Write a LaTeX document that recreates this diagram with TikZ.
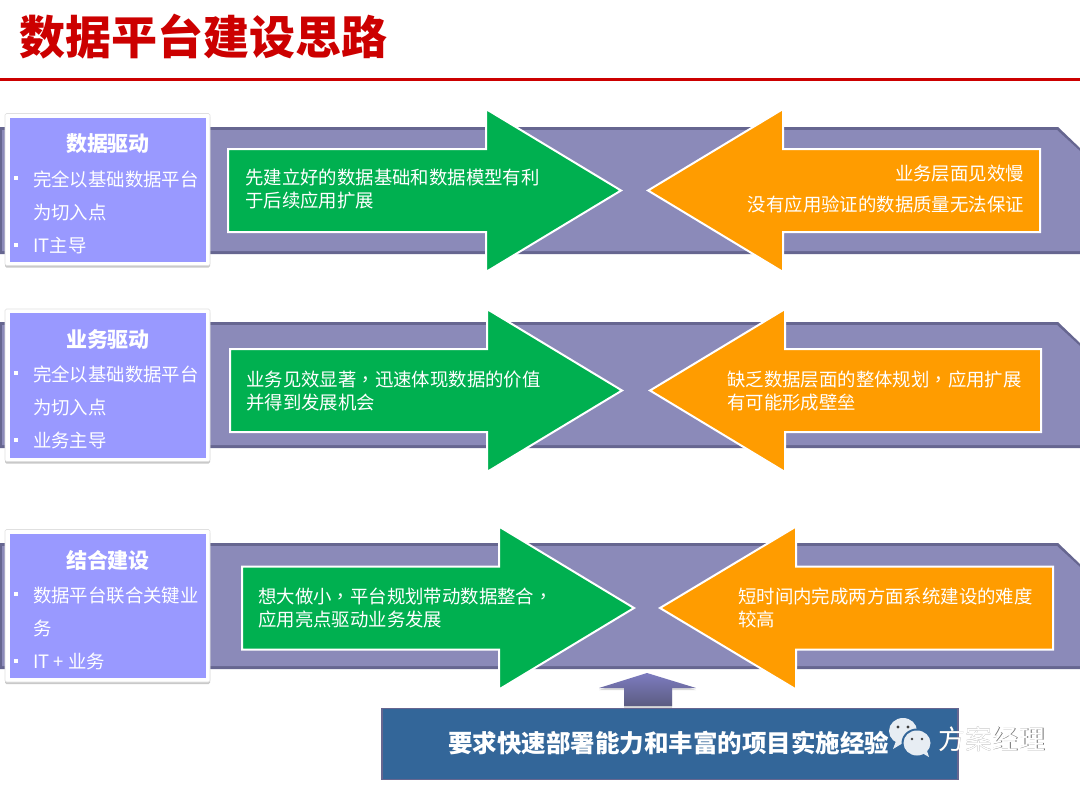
\documentclass[tikz,border=0pt]{standalone}
\usepackage{fontspec}
\usetikzlibrary{shadows}
\setmainfont{Noto Sans CJK SC}
\newfontfamily\commafont{Noto Sans CJK TC}
\definecolor{titlered}{HTML}{CC0000}
\definecolor{bandfill}{HTML}{8B8AB9}
\definecolor{bandedge}{HTML}{666690}
\definecolor{lilac}{HTML}{9999FF}
\definecolor{goodgreen}{HTML}{00B050}
\definecolor{warnorange}{HTML}{FF9C00}
\definecolor{steelblue}{HTML}{336699}
\newcommand\midcomma{{\commafont ，}}
\tikzset{
  x=1pt,y=-1pt,
  bodytext/.style={text=white,inner sep=0pt,font=\fontsize{18.4}{22.5}\selectfont},
  headtext/.style={text=white,inner sep=0pt,font=\fontsize{21}{24}\selectfont\bfseries},
  listtext/.style={bodytext,anchor=west},
  bulletmark/.style={fill=white,inner sep=0pt,minimum size=4.5pt},
  arrowbody/.style={draw=white,line width=2pt,miter limit=10},
  cardbox/.style={fill=white,draw=black!12,line width=.6pt,rounded corners=1.5pt,drop shadow={shadow xshift=0pt,shadow yshift=-2pt,opacity=.35,fill=black!60}},
  bubble/.style={fill=white!88!steelblue},
}
% band with a clipped upper right corner; #1 top edge, #2 bottom edge
\newcommand\bandrow[2]{
  \fill[bandedge] (-2,#1) -- (1058,#1) -- (1081,#1+22) -- (1081,#2) -- (-2,#2) -- cycle;
  \fill[bandfill] (2,#1+3) -- (1057,#1+3) -- (1081,#1+25) -- (1081,#2-3) -- (2,#2-3) -- cycle;
}
% right-pointing arrow: #1 left, #2 head x, #3 tip x, #4 mid y
\newcommand\greenarrow[4]{
  \draw[arrowbody,fill=goodgreen] (#1,#4-41.5) -- (#2,#4-41.5) -- (#2,#4-81.5) -- (#3,#4) -- (#2,#4+81.5) -- (#2,#4+41.5) -- (#1,#4+41.5) -- cycle;
}
% left-pointing arrow: #1 right, #2 head x, #3 tip x, #4 mid y
\newcommand\orangearrow[4]{
  \draw[arrowbody,fill=warnorange] (#1,#4-41.5) -- (#2,#4-41.5) -- (#2,#4-81.5) -- (#3,#4) -- (#2,#4+81.5) -- (#2,#4+41.5) -- (#1,#4+41.5) -- cycle;
}
% white card with lilac panel: #1 top of card, #2 bottom of card
\newcommand\sidecard[2]{
  \path[cardbox] (5,#1) rectangle (210,#2);
  \fill[lilac] (9.5,#1+4) rectangle (206,#2-4);
}
\begin{document}
\begin{tikzpicture}
\useasboundingbox (0,0) rectangle (1080,787);
\fill[white] (0,0) rectangle (1080,787);

% heading and rule
\node[anchor=west,inner sep=0pt,text=titlered,font=\fontsize{46}{50}\selectfont\bfseries] (heading) at (19,37) {数据平台建设思路};
\fill[titlered] (0,78) rectangle (1080,81);

% first row
\bandrow{127}{254}
\greenarrow{228}{486}{621}{190.5}
\orangearrow{1040}{783}{648}{190.5}
\sidecard{113.5}{265.5}
\node[headtext] (a0) at (108,144) {数据驱动};
\node[bulletmark] (a1b) at (16,178) {};
\node[listtext] (a1) at (33,179.5) {完全以基础数据平台};
\node[listtext] (a2) at (33,212.5) {为切入点};
\node[bulletmark] (a3b) at (16,245) {};
\node[listtext] (a3) at (33,245.5) {IT主导};
\node[bodytext,anchor=west,align=left] (a4) at (245,189) {先建立好的数据基础和数据模型有利\\于后续应用扩展};
\node[bodytext,anchor=east] (a5) at (1024,174) {业务层面见效慢};
\node[bodytext,anchor=east] (a6) at (1024,204) {没有应用验证的数据质量无法保证};

% second row
\bandrow{322}{448}
\greenarrow{230}{487}{622}{390.5}
\orangearrow{1041}{785}{650}{390.5}
\sidecard{309}{461.5}
\node[headtext] (b0) at (108,339.5) {业务驱动};
\node[bulletmark] (b1b) at (16,373) {};
\node[listtext] (b1) at (33,374.5) {完全以基础数据平台};
\node[listtext] (b2) at (33,407.5) {为切入点};
\node[bulletmark] (b3b) at (16,440) {};
\node[listtext] (b3) at (33,440.5) {业务主导};
\node[bodytext,anchor=west,align=left] (b4) at (246,391) {业务见效显著\midcomma 迅速体现数据的价值\\并得到发展机会};
\node[bodytext,anchor=west,align=left] (b5) at (727,391) {缺乏数据层面的整体规划\midcomma 应用扩展\\有可能形成壁垒};

% third row
\bandrow{543}{669}
\greenarrow{242}{499}{634}{608}
\orangearrow{1053}{796}{660}{608}
\sidecard{529.5}{682}
\node[headtext] (c0) at (108,560.5) {结合建设};
\node[bulletmark] (c1b) at (16,594) {};
\node[listtext] (c1) at (33,595.5) {数据平台联合关键业};
\node[listtext] (c2) at (33,628.5) {务};
\node[bulletmark] (c3b) at (16,661) {};
\node[listtext] (c3) at (33,661.5) {IT + 业务};
\node[bodytext,anchor=west,align=left] (c4) at (258,608) {想大做小\midcomma 平台规划带动数据整合\midcomma \\应用亮点驱动业务发展};
\node[bodytext,anchor=west,align=left] (c5) at (738,608) {短时间内完成两方面系统建设的难度\\较高};

% requirement box and its upward arrow
\path[top color=bandfill!90!blue,bottom color=bandedge!90!black,drop shadow={shadow xshift=0pt,shadow yshift=-2pt,opacity=.3}]
  (647,673) -- (696,688) -- (672,688) -- (672,706) -- (624,706) -- (624,688) -- (599,688) -- cycle;
\node[draw=bandedge,line width=1.5pt,fill=steelblue,minimum width=576pt,minimum height=71pt,inner sep=0pt,anchor=north west] (req) at (381,707.5) {};
\node[anchor=west,inner sep=0pt,text=white,font=\fontsize{24.5}{28}\selectfont\bfseries] (reqtext) at (448,743) {要求快速部署能力和丰富的项目实施经验};

% chat bubbles and caption
\fill[bubble] (903,731) ellipse (14 and 13);
\fill[bubble] (896,741) -- (893,749) -- (903,743) -- cycle;
\fill[steelblue] (917,743) ellipse (15.5 and 14.5);
\fill[bubble] (917,743) ellipse (13.5 and 12.5);
\fill[bubble] (922,753) -- (929,757) -- (926,748) -- cycle;
\fill[black!75] (898,727) circle (1.6) (908,727) circle (1.6) (912,739) circle (1.4) (922,739) circle (1.4);
\node[anchor=west,inner sep=0pt,text=black!55,font=\fontsize{26.8}{30}\selectfont] at (938.7,739.7) {方案经理};
\node[anchor=west,inner sep=0pt,text=white,font=\fontsize{26.8}{30}\selectfont] (mark) at (938,739) {方案经理};
\end{tikzpicture}
\end{document}
